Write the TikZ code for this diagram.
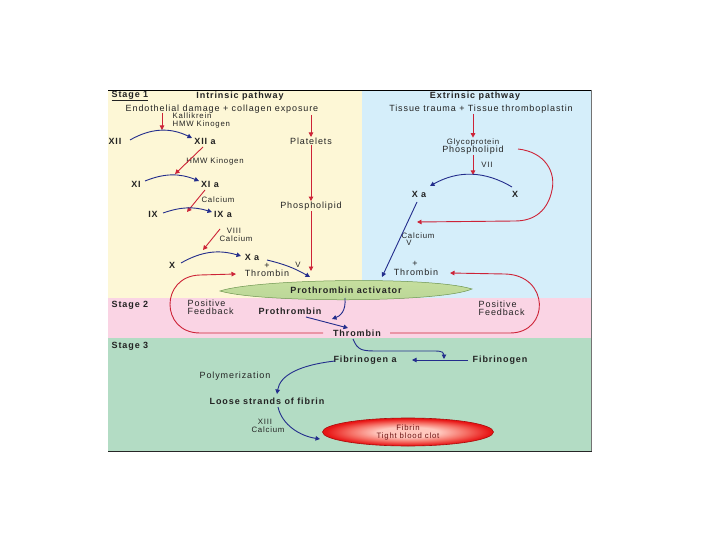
\documentclass[tikz,border=0pt]{standalone}
\usepackage{fontspec}
\usetikzlibrary{arrows.meta,shapes.geometric}
\newfontfamily\dfont[LetterSpace=10]{Liberation Sans}
\newcommand\fmain{\dfont\fontsize{9}{8}\selectfont}
\newcommand\fsmall{\dfont\fontsize{7.8}{8}\selectfont}
\definecolor{yellowbg}{RGB}{253,247,214}
\definecolor{bluebg}{RGB}{213,238,250}
\definecolor{pinkbg}{RGB}{250,212,228}
\definecolor{greenbg}{RGB}{179,220,196}
\definecolor{redc}{RGB}{205,35,55}
\definecolor{bluec}{RGB}{35,45,140}
\definecolor{textc}{RGB}{35,35,35}
\definecolor{clotin}{RGB}{255,200,190}
\definecolor{clotmid}{RGB}{245,110,100}
\definecolor{clotout}{RGB}{232,22,22}
\definecolor{clotedge}{RGB}{170,10,10}
\definecolor{clottext}{RGB}{110,20,20}
\definecolor{lensedge}{RGB}{110,150,80}
\definecolor{lenstop}{RGB}{200,224,160}
\definecolor{lensmid}{RGB}{246,248,226}
\definecolor{lensbot}{RGB}{185,214,150}
\pgfdeclareradialshading{clotshade}{\pgfpoint{0bp}{0bp}}{%
  color(0bp)=(clotin); color(9bp)=(clotin); color(17bp)=(clotmid);
  color(24bp)=(clotout); color(50bp)=(clotout)}
\tikzset{
  txt/.style={font=\fmain, text=textc, inner sep=0.5pt},
  btxt/.style={font=\fmain\bfseries, text=textc, inner sep=0.5pt},
  stxt/.style={font=\fsmall, text=textc, inner sep=0.5pt},
  redarr/.style={draw=redc, line width=0.9pt, -{Triangle[length=4.5pt,width=4.5pt]}},
  bluearr/.style={draw=bluec, line width=0.9pt, -{Triangle[length=4.5pt,width=4.5pt]}},
  clot/.style={ellipse, minimum width=171pt, minimum height=28pt, inner sep=0pt,
    shading=clotshade, draw=clotedge, line width=0.6pt,
    font=\fsmall, text=clottext, align=center}
}
\begin{document}
\begin{tikzpicture}[x=1pt,y=-1pt]
\useasboundingbox (0,0) rectangle (720,540);
% backgrounds
\fill[yellowbg] (108,90) rectangle (362,298);
\fill[bluebg] (362,90) rectangle (591,298);
\fill[pinkbg] (108,298) rectangle (591,338);
\fill[greenbg] (108,338) rectangle (591,451);
\draw[black, line width=0.8pt] (108,90) -- (592,90);
\draw[black!55, line width=1.4pt] (591.5,90) -- (591.5,452);
\draw[black!85, line width=1pt] (108,451.5) -- (592.2,451.5);

% ---------- Stage 1 intrinsic ----------
\node[btxt, anchor=west] (st1) at (111,96) {\underline{Stage 1}};
\node[btxt] (intr) at (240,96) {Intrinsic pathway};
\node[btxt] (extr) at (475,96) {Extrinsic pathway};
\node[txt] (endo) at (222,109) {Endothelial damage + collagen exposure};
\node[stxt, anchor=west] (kall) at (172,116) {Kallikrein};
\node[stxt, anchor=west] (hmwa) at (172,124) {HMW Kinogen};
\node[btxt] (xii) at (115,141) {XII};
\node[btxt] (xiia) at (205,141) {XII a};
\node[txt] (plt) at (311,141) {Platelets};
\node[stxt] (hmwb) at (215,161) {HMW Kinogen};
\node[btxt] (xi) at (136,184) {XI};
\node[btxt] (xia) at (210,184) {XI a};
\node[stxt] (calc1) at (218,200) {Calcium};
\node[txt] (phos1) at (311,206) {Phospholipid};
\node[btxt] (ix) at (153,214) {IX};
\node[btxt] (ixa) at (223,214) {IX a};
\node[stxt] (viii) at (234,231) {VIII};
\node[stxt] (calc2) at (236,239) {Calcium};
\node[btxt] (x) at (172,265) {X};
\node[btxt] (xa) at (252,257) {X a};
\node[stxt] (v1) at (298,265) {V};
\node[txt] (plus1) at (267,266) {+};
\node[txt] (thr1) at (267,273) {Thrombin};

% ---------- Stage 1 extrinsic ----------
\node[txt] (tiss) at (481,109) {Tissue trauma + Tissue thromboplastin};
\node[stxt] (glyc) at (473,142) {Glycoprotein};
\node[txt] (phos2) at (473,150) {Phospholipid};
\node[stxt] (vii) at (487,165) {VII};
\node[btxt] (xab) at (419,194) {X a};
\node[btxt] (xb) at (515,194) {X};
\node[stxt] (calc3) at (418,236) {Calcium};
\node[stxt] (v2) at (409,243) {V};
\node[txt] (plus2) at (415,264) {+};
\node[txt] (thr2) at (416,272) {Thrombin};

% ---------- prothrombin activator ----------
\shade[top color=lenstop, middle color=lensmid, bottom color=lensbot, draw=lensedge, line width=0.5pt]
  (220,291) .. controls (255,279) and (430,276) .. (472,289)
  .. controls (440,303) and (260,303) .. cycle;
\node[btxt] (act) at (346,290) {Prothrombin activator};

% ---------- Stage 2 ----------
\node[btxt, anchor=west] (st2) at (111,305) {Stage 2};
\node[txt, anchor=west] (pfa) at (187,303) {Positive};
\node[txt, anchor=west] (pfb) at (187,311) {Feedback};
\node[btxt] (proth) at (290,311) {Prothrombin};
\node[btxt] (thr3) at (357,333) {Thrombin};
\node[txt, anchor=west] (pfc) at (478,304) {Positive};
\node[txt, anchor=west] (pfd) at (478,312) {Feedback};

% ---------- Stage 3 ----------
\node[btxt, anchor=west] (st3) at (111,346) {Stage 3};
\node[btxt] (fga) at (365,360) {Fibrinogen a};
\node[btxt] (fg) at (500,360) {Fibrinogen};
\node[txt] (poly) at (235,376) {Polymerization};
\node[btxt] (loose) at (267,401) {Loose strands of fibrin};
\node[stxt] (xiii) at (265,422) {XIII};
\node[stxt] (calc4) at (268,430) {Calcium};
\node[clot] (fibrin) at (408,432) {Fibrin\\Tight blood clot};

% ---------- coordinates for connector ends ----------
\coordinate (r1s) at (162,113); \coordinate (r1e) at (162,130);
\coordinate (r2s) at (311,115);
\coordinate (r3s) at (203,147); \coordinate (r3e) at (175,174);
\coordinate (r4s) at (205,190); \coordinate (r4e) at (187,212);
\coordinate (r5s) at (220,229); \coordinate (r5e) at (203,250);
\coordinate (r7e) at (311,271);
\coordinate (r8s) at (473,114);
\coordinate (b1s) at (130,140); \coordinate (b1e) at (192,138);
\coordinate (b2s) at (145,181); \coordinate (b2e) at (199,181);
\coordinate (b3s) at (163,213); \coordinate (b3e) at (212,212);
\coordinate (b4s) at (181,263); \coordinate (b4e) at (241,256);
\coordinate (b5s) at (512,187); \coordinate (b5e) at (430,186);
\coordinate (b6s) at (267,260); \coordinate (b6e) at (310,277);
\coordinate (b7s) at (417,202); \coordinate (b7e) at (382,277);
\coordinate (b8s) at (345,298); \coordinate (b8e) at (332,319);
\coordinate (b9s) at (306,317); \coordinate (b9e) at (348,328);
\coordinate (b10s) at (353,339); \coordinate (b10e) at (444,359);
\coordinate (b11s) at (468,360); \coordinate (b11e) at (412,360);
\coordinate (b12s) at (335,361); \coordinate (b12e) at (277,394);
\coordinate (b13s) at (278,407); \coordinate (b13e) at (320,439);
\coordinate (rc1s) at (518,149); \coordinate (rc1e) at (417,222);
\coordinate (rc2s) at (323,333); \coordinate (rc2e) at (236,274);
\coordinate (rc3s) at (390,333); \coordinate (rc3e) at (450,273);

% ---------- red connectors ----------
\draw[redarr] (r1s) -- (r1e);
\draw[redarr] (r2s) -- (plt.north);
\draw[redarr] (r3s) -- (r3e);
\draw[redarr] (r4s) -- (r4e);
\draw[redarr] (r5s) -- (r5e);
\draw[redarr] (plt.south) -- (phos1.north);
\draw[redarr] (phos1.south) -- (r7e);
\draw[redarr] (r8s) -- (glyc.north);
\draw[redarr] (phos2.south) -- ([yshift=-20pt]phos2.south);
\draw[redarr] (rc1s) .. controls (545,152) and (556,172) .. (552,190)
  .. controls (548,210) and (535,221) .. (515,221) -- (rc1e);
\draw[redarr] (rc2s) -- (200,333) .. controls (160,333) and (160,276) .. (200,275) -- (rc2e);
\draw[redarr] (rc3s) -- (510,333) .. controls (550,333) and (550,275) .. (505,274) -- (rc3e);

% ---------- blue connectors ----------
\draw[bluearr] (b1s) to[bend left=28] (b1e);
\draw[bluearr] (b2s) to[bend left=22] (b2e);
\draw[bluearr] (b3s) to[bend left=18] (b3e);
\draw[bluearr] (b4s) to[bend left=23] (b4e);
\draw[bluearr] (b5s) to[bend right=30] (b5e);
\draw[bluearr] (b6s) to[bend left=8] (b6e);
\draw[bluearr] (b7s) -- (b7e);
\draw[bluearr] (b8s) .. controls (346,312) and (340,316) .. (b8e);
\draw[bluearr] (b9s) -- (b9e);
\draw[bluearr] (b10s) .. controls (358,351) and (362,351) .. (380,351) -- (435,351)
  .. controls (443,351) and (444,353) .. (b10e);
\draw[bluearr] (b11s) -- (b11e);
\draw[bluearr] (b12s) .. controls (300,365) and (280,375) .. (b12e);
\draw[bluearr] (b13s) .. controls (282,425) and (300,436) .. (b13e);
\end{tikzpicture}
\end{document}
